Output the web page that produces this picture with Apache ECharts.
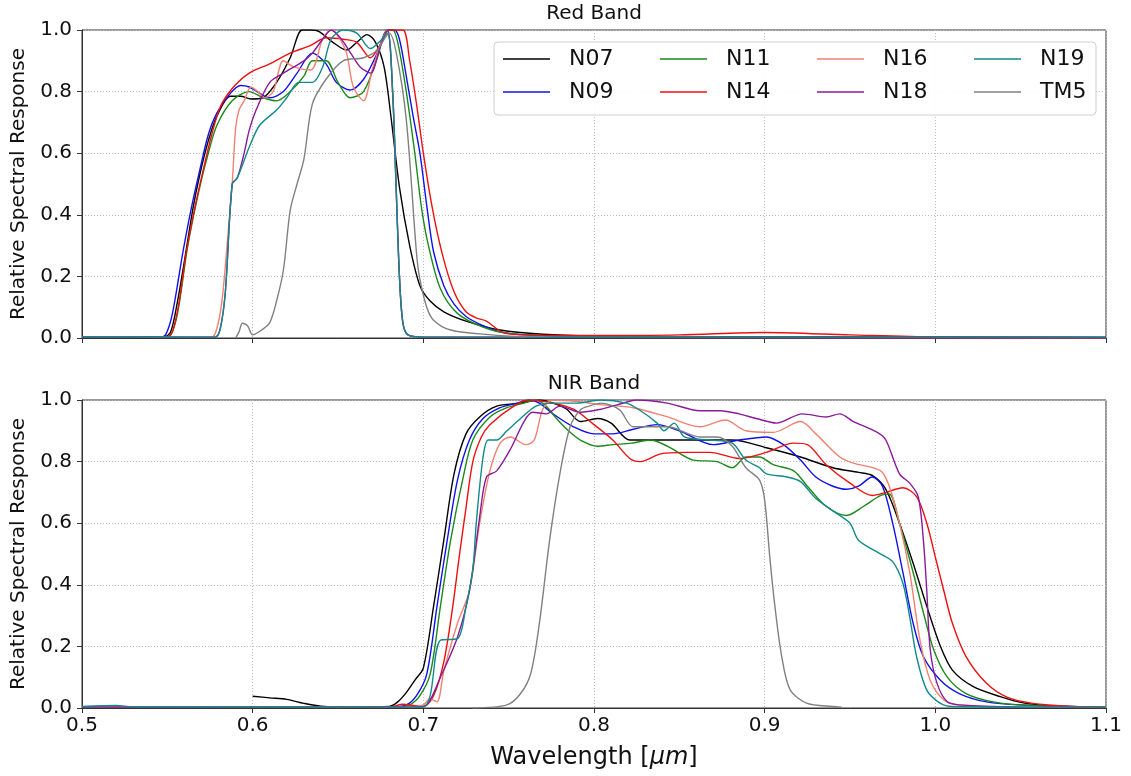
<!DOCTYPE html>
<html><head><meta charset="utf-8">
<script src="https://cdn.jsdelivr.net/npm/echarts@6/dist/echarts.min.js"></script>
<style>html,body{margin:0;padding:0;background:#fff}#c{width:1131px;height:776px}</style>
</head><body><div id="c"></div>
<script>
// ---------- data ----------
const xTicks = [0.5, 0.6, 0.7, 0.8, 0.9, 1.0, 1.1];
const yTicks = [0.0, 0.2, 0.4, 0.6, 0.8, 1.0];
const panelTitles = ['Red Band', 'NIR Band'];
const seriesNames = ['N07', 'N09', 'N11', 'N14', 'N16', 'N18', 'N19', 'TM5'];

// Red band: [wavelength (um), relative response]
const red_N07 = [[0.5,0.004],[0.548,0.003],[0.552,0.02],[0.556,0.12],[0.56,0.25],[0.565,0.42],[0.569,0.53],[0.574,0.64],[0.579,0.72],[0.587,0.785],[0.593,0.785],[0.599,0.776],[0.606,0.78],[0.614,0.83],[0.622,0.91],[0.629,1.0],[0.634,1.0],[0.639,0.995],[0.647,0.96],[0.655,0.935],[0.661,0.96],[0.667,0.985],[0.672,0.96],[0.677,0.88],[0.681,0.72],[0.686,0.49],[0.692,0.3],[0.698,0.17],[0.704,0.12],[0.712,0.085],[0.725,0.055],[0.745,0.026],[0.77,0.012],[0.8,0.006],[0.85,0.004],[1.1,0.002]];
const red_N09 = [[0.5,0.004],[0.546,0.003],[0.549,0.01],[0.553,0.08],[0.559,0.275],[0.564,0.42],[0.569,0.545],[0.574,0.66],[0.579,0.73],[0.587,0.795],[0.593,0.82],[0.598,0.815],[0.604,0.795],[0.61,0.78],[0.618,0.8],[0.626,0.86],[0.635,0.925],[0.643,0.89],[0.649,0.83],[0.657,0.805],[0.665,0.84],[0.673,0.925],[0.679,1.0],[0.683,1.0],[0.686,0.97],[0.69,0.85],[0.694,0.72],[0.698,0.6],[0.702,0.43],[0.706,0.28],[0.712,0.17],[0.718,0.11],[0.725,0.07],[0.735,0.04],[0.745,0.02],[0.76,0.01],[0.8,0.005],[1.1,0.002]];
const red_N11 = [[0.5,0.004],[0.548,0.003],[0.552,0.01],[0.556,0.08],[0.562,0.3],[0.569,0.49],[0.574,0.6],[0.579,0.69],[0.588,0.77],[0.598,0.8],[0.606,0.78],[0.614,0.77],[0.622,0.8],[0.63,0.85],[0.635,0.9],[0.643,0.9],[0.65,0.83],[0.657,0.78],[0.665,0.8],[0.673,0.91],[0.679,1.0],[0.682,1.0],[0.685,0.96],[0.69,0.8],[0.695,0.6],[0.699,0.42],[0.703,0.3],[0.71,0.16],[0.72,0.08],[0.735,0.035],[0.75,0.015],[0.8,0.005],[1.1,0.002]];
const red_N14 = [[0.5,0.004],[0.55,0.003],[0.553,0.02],[0.557,0.12],[0.561,0.275],[0.566,0.42],[0.571,0.545],[0.576,0.66],[0.581,0.75],[0.588,0.81],[0.598,0.86],[0.61,0.89],[0.622,0.925],[0.634,0.95],[0.643,0.975],[0.653,0.97],[0.661,0.96],[0.669,0.91],[0.675,0.955],[0.68,1.0],[0.688,1.0],[0.692,0.9],[0.696,0.76],[0.7,0.6],[0.705,0.43],[0.711,0.275],[0.718,0.15],[0.725,0.085],[0.731,0.065],[0.737,0.055],[0.743,0.03],[0.748,0.015],[0.76,0.01],[0.8,0.008],[0.85,0.01],[0.9,0.018],[0.95,0.01],[1.0,0.003],[1.1,0.001]];
const red_N16 = [[0.5,0.003],[0.576,0.003],[0.579,0.03],[0.582,0.12],[0.585,0.3],[0.588,0.5],[0.59,0.68],[0.592,0.74],[0.595,0.77],[0.599,0.815],[0.603,0.8],[0.607,0.78],[0.612,0.8],[0.618,0.9],[0.624,0.88],[0.634,0.87],[0.641,0.97],[0.646,1.0],[0.65,0.98],[0.655,0.925],[0.659,0.815],[0.665,0.77],[0.67,0.87],[0.676,0.97],[0.679,1.0],[0.682,0.8],[0.684,0.5],[0.686,0.2],[0.688,0.05],[0.691,0.01],[0.7,0.003],[1.1,0.001]];
const red_N18 = [[0.5,0.003],[0.578,0.003],[0.581,0.03],[0.584,0.15],[0.588,0.5],[0.591,0.52],[0.595,0.6],[0.598,0.675],[0.602,0.74],[0.61,0.83],[0.618,0.86],[0.63,0.9],[0.635,0.925],[0.641,0.97],[0.646,1.0],[0.652,0.97],[0.658,0.92],[0.663,0.88],[0.669,0.86],[0.675,0.95],[0.679,1.0],[0.682,0.8],[0.684,0.5],[0.686,0.2],[0.688,0.05],[0.691,0.01],[0.7,0.003],[1.1,0.001]];
const red_N19 = [[0.5,0.004],[0.578,0.003],[0.581,0.03],[0.584,0.15],[0.588,0.5],[0.591,0.52],[0.598,0.62],[0.604,0.69],[0.614,0.74],[0.62,0.78],[0.627,0.83],[0.635,0.83],[0.641,0.88],[0.646,0.97],[0.653,1.0],[0.661,0.99],[0.669,0.94],[0.674,0.96],[0.679,0.99],[0.682,0.8],[0.684,0.5],[0.686,0.2],[0.688,0.05],[0.691,0.01],[0.7,0.003],[1.1,0.003]];
const red_TM5 = [[0.59,0.0],[0.592,0.02],[0.594,0.048],[0.597,0.04],[0.6,0.01],[0.605,0.025],[0.61,0.05],[0.614,0.12],[0.618,0.22],[0.622,0.415],[0.626,0.5],[0.63,0.58],[0.635,0.76],[0.643,0.84],[0.653,0.9],[0.665,0.91],[0.673,0.935],[0.68,0.99],[0.684,0.93],[0.69,0.71],[0.696,0.275],[0.698,0.19],[0.702,0.1],[0.706,0.058],[0.716,0.026],[0.74,0.01],[0.76,0.003]];

// NIR band
const nir_N07 = [[0.6,0.038],[0.61,0.033],[0.62,0.028],[0.63,0.015],[0.64,0.006],[0.66,0.003],[0.68,0.005],[0.685,0.02],[0.69,0.05],[0.695,0.09],[0.7,0.13],[0.706,0.33],[0.712,0.545],[0.718,0.76],[0.725,0.89],[0.733,0.945],[0.743,0.98],[0.757,0.99],[0.768,1.0],[0.776,0.99],[0.784,0.97],[0.792,0.93],[0.802,0.94],[0.81,0.925],[0.821,0.87],[0.843,0.87],[0.862,0.87],[0.881,0.87],[0.901,0.845],[0.921,0.815],[0.94,0.78],[0.955,0.765],[0.963,0.755],[0.971,0.71],[0.979,0.6],[0.987,0.47],[0.995,0.33],[1.003,0.2],[1.01,0.123],[1.022,0.07],[1.038,0.037],[1.053,0.015],[1.075,0.005],[1.1,0.002]];
const nir_N09 = [[0.5,0.003],[0.68,0.003],[0.69,0.01],[0.696,0.04],[0.702,0.11],[0.708,0.33],[0.714,0.545],[0.72,0.74],[0.727,0.87],[0.735,0.94],[0.745,0.975],[0.755,0.99],[0.762,1.0],[0.768,0.99],[0.776,0.955],[0.788,0.913],[0.8,0.89],[0.811,0.89],[0.823,0.905],[0.837,0.92],[0.85,0.9],[0.87,0.855],[0.885,0.87],[0.901,0.88],[0.911,0.855],[0.921,0.805],[0.93,0.75],[0.94,0.72],[0.948,0.71],[0.955,0.72],[0.963,0.75],[0.969,0.72],[0.975,0.6],[0.981,0.44],[0.987,0.275],[0.993,0.167],[1.003,0.09],[1.014,0.047],[1.03,0.02],[1.05,0.01],[1.1,0.003]];
const nir_N11 = [[0.5,0.003],[0.685,0.003],[0.692,0.01],[0.698,0.04],[0.704,0.11],[0.71,0.33],[0.716,0.545],[0.723,0.74],[0.729,0.87],[0.739,0.945],[0.749,0.975],[0.759,0.99],[0.766,1.0],[0.772,0.98],[0.778,0.94],[0.785,0.9],[0.792,0.87],[0.802,0.85],[0.811,0.855],[0.822,0.86],[0.833,0.87],[0.843,0.85],[0.858,0.805],[0.872,0.8],[0.881,0.78],[0.889,0.815],[0.897,0.815],[0.905,0.79],[0.917,0.77],[0.925,0.72],[0.936,0.655],[0.948,0.625],[0.958,0.655],[0.968,0.69],[0.973,0.695],[0.979,0.6],[0.987,0.44],[0.993,0.31],[0.999,0.19],[1.007,0.1],[1.018,0.047],[1.034,0.02],[1.055,0.008],[1.1,0.003]];
const nir_N14 = [[0.5,0.003],[0.68,0.003],[0.688,0.012],[0.694,0.008],[0.7,0.005],[0.706,0.04],[0.712,0.15],[0.717,0.32],[0.721,0.49],[0.725,0.65],[0.729,0.8],[0.734,0.88],[0.739,0.92],[0.753,0.98],[0.762,1.0],[0.776,0.99],[0.788,0.97],[0.8,0.92],[0.811,0.87],[0.821,0.81],[0.827,0.8],[0.839,0.825],[0.853,0.83],[0.868,0.83],[0.885,0.81],[0.901,0.83],[0.917,0.86],[0.925,0.855],[0.936,0.79],[0.95,0.73],[0.963,0.69],[0.971,0.7],[0.981,0.715],[0.989,0.686],[0.995,0.6],[1.0,0.49],[1.005,0.38],[1.01,0.275],[1.018,0.167],[1.03,0.08],[1.042,0.035],[1.057,0.015],[1.08,0.005],[1.1,0.003]];
const nir_N16 = [[0.5,0.003],[0.69,0.003],[0.7,0.01],[0.704,0.03],[0.708,0.02],[0.712,0.12],[0.72,0.275],[0.727,0.38],[0.733,0.6],[0.739,0.77],[0.745,0.86],[0.751,0.88],[0.76,0.855],[0.765,0.87],[0.77,0.97],[0.776,1.0],[0.79,0.995],[0.804,0.985],[0.823,0.975],[0.843,0.945],[0.862,0.913],[0.877,0.935],[0.889,0.9],[0.905,0.895],[0.921,0.93],[0.93,0.89],[0.944,0.815],[0.952,0.795],[0.968,0.77],[0.973,0.72],[0.979,0.6],[0.985,0.44],[0.991,0.22],[0.997,0.09],[1.005,0.026],[1.014,0.01],[1.05,0.003],[1.1,0.002]];
const nir_N18 = [[0.5,0.003],[0.695,0.003],[0.702,0.01],[0.71,0.1],[0.72,0.23],[0.727,0.38],[0.733,0.62],[0.737,0.75],[0.743,0.77],[0.751,0.84],[0.759,0.93],[0.764,0.96],[0.772,0.955],[0.78,0.98],[0.792,0.96],[0.804,0.97],[0.814,0.985],[0.825,1.0],[0.843,0.99],[0.862,0.965],[0.874,0.965],[0.885,0.955],[0.895,0.94],[0.907,0.925],[0.922,0.955],[0.936,0.945],[0.944,0.955],[0.952,0.93],[0.966,0.895],[0.971,0.87],[0.979,0.76],[0.985,0.73],[0.99,0.686],[0.993,0.545],[0.995,0.38],[0.997,0.19],[1.001,0.08],[1.007,0.02],[1.014,0.01],[1.05,0.003],[1.1,0.002]];
const nir_N19 = [[0.5,0.005],[0.52,0.008],[0.53,0.004],[0.7,0.003],[0.704,0.04],[0.71,0.22],[0.72,0.225],[0.725,0.33],[0.729,0.45],[0.731,0.6],[0.735,0.815],[0.738,0.87],[0.743,0.87],[0.749,0.9],[0.757,0.94],[0.766,0.98],[0.776,0.99],[0.79,0.99],[0.804,1.0],[0.819,0.99],[0.826,0.97],[0.837,0.925],[0.841,0.9],[0.847,0.925],[0.853,0.88],[0.868,0.87],[0.881,0.86],[0.889,0.805],[0.897,0.78],[0.901,0.76],[0.913,0.75],[0.921,0.735],[0.93,0.68],[0.94,0.64],[0.95,0.6],[0.955,0.545],[0.968,0.5],[0.975,0.475],[0.981,0.405],[0.985,0.295],[0.989,0.167],[0.995,0.058],[1.003,0.015],[1.01,0.005],[1.1,0.002]];
const nir_TM5 = [[0.729,0.0],[0.749,0.01],[0.757,0.047],[0.763,0.113],[0.768,0.275],[0.774,0.545],[0.78,0.76],[0.786,0.913],[0.792,0.968],[0.797,0.98],[0.804,0.99],[0.815,0.968],[0.823,0.913],[0.843,0.913],[0.862,0.88],[0.872,0.88],[0.881,0.85],[0.889,0.78],[0.897,0.74],[0.9,0.675],[0.903,0.49],[0.906,0.33],[0.91,0.167],[0.915,0.058],[0.925,0.015],[0.94,0.005],[0.945,0.003]];

// ---------- styling / layout ----------
const redData = [red_N07, red_N09, red_N11, red_N14, red_N16, red_N18, red_N19, red_TM5];
const nirData = [nir_N07, nir_N09, nir_N11, nir_N14, nir_N16, nir_N18, nir_N19, nir_TM5];
const colors = ['#000000', '#1010ee', '#1a8a1a', '#ee1010', '#f08070', '#8a1a9a', '#108a8a', '#808080'];
const FONT = 'DejaVu Sans';
const TXT = '#111';

const chart = echarts.init(document.getElementById('c'), null, {renderer: 'canvas'});

const grids = [
  {left: 82, right: 25, top: 30, height: 308},
  {left: 82, right: 25, top: 400, height: 308}
].map(g => Object.assign(g, {show: true, borderColor: '#333', borderWidth: 1, backgroundColor: 'transparent'}));

function xAxisCfg(i) {
  return {
    type: 'value', gridIndex: i, min: xTicks[0], max: xTicks[xTicks.length - 1], interval: 0.1,
    axisLine: {show: true, onZero: false, lineStyle: {color: '#333', width: 1}},
    axisTick: {show: true, length: 5, lineStyle: {color: '#333'}},
    axisLabel: {show: i === 1, fontSize: 20, fontFamily: FONT, color: TXT, margin: 8,
      formatter: v => v.toFixed(1)},
    splitLine: {show: true, lineStyle: {color: '#bdbdbd', type: [1, 2], width: 1}},
    name: i === 1 ? 'Wavelength [{i|μm}]' : '',
    nameLocation: 'middle', nameGap: 38,
    nameTextStyle: {fontSize: 24, fontFamily: FONT, color: TXT,
      rich: {i: {fontSize: 24, fontFamily: FONT, fontStyle: 'italic', color: TXT}}}
  };
}
function yAxisCfg(i) {
  return {
    type: 'value', gridIndex: i, min: yTicks[0], max: yTicks[yTicks.length - 1], interval: 0.2,
    axisLine: {show: true, onZero: false, lineStyle: {color: '#333', width: 1}},
    axisTick: {show: true, length: 5, lineStyle: {color: '#333'}},
    axisLabel: {fontSize: 20, fontFamily: FONT, color: TXT, margin: 10, formatter: v => v.toFixed(1)},
    splitLine: {show: true, lineStyle: {color: '#bdbdbd', type: [1, 2], width: 1}},
    name: 'Relative Spectral Response', nameLocation: 'middle', nameGap: 52,
    nameTextStyle: {fontSize: 20, fontFamily: FONT, color: TXT}
  };
}

const series = [];
[redData, nirData].forEach((set, gi) => {
  set.forEach((d, k) => {
    series.push({
      type: 'line', name: seriesNames[k], xAxisIndex: gi, yAxisIndex: gi,
      data: d, showSymbol: false, symbol: 'none', smooth: 0.3,
      lineStyle: {color: colors[k], width: 1.4}, itemStyle: {color: colors[k]},
      z: 2 + k * 0.01, silent: true
    });
  });
});

const legendCols = [503, 660, 817, 974];
const legendRows = [48, 81];
const legends = seriesNames.map((n, k) => ({
  data: [n], left: legendCols[Math.floor(k / 2)], top: legendRows[k % 2],
  icon: 'rect', itemWidth: 47, itemHeight: 1.6, itemGap: 0, padding: 0,
  textStyle: {fontSize: 22, fontFamily: FONT, color: TXT, padding: [0, 0, 0, 14]},
  selectedMode: false, z: 10
}));

chart.setOption({
  animation: false,
  backgroundColor: '#fff',
  textStyle: {fontFamily: FONT},
  grid: grids,
  xAxis: [xAxisCfg(0), xAxisCfg(1)],
  yAxis: [yAxisCfg(0), yAxisCfg(1)],
  legend: legends,
  series: series,
  graphic: [
    {type: 'rect', z: 5, shape: {x: 494, y: 42, width: 602, height: 73, r: 4},
      style: {fill: 'rgba(255,255,255,0.9)', stroke: '#cfcfcf', lineWidth: 1}},
    {type: 'text', z: 5, x: 594, y: 4, style: {text: panelTitles[0], font: '20px "DejaVu Sans"', fill: TXT, textAlign: 'center'}},
    {type: 'text', z: 5, x: 594, y: 374, style: {text: panelTitles[1], font: '20px "DejaVu Sans"', fill: TXT, textAlign: 'center'}}
  ]
});
</script></body></html>
